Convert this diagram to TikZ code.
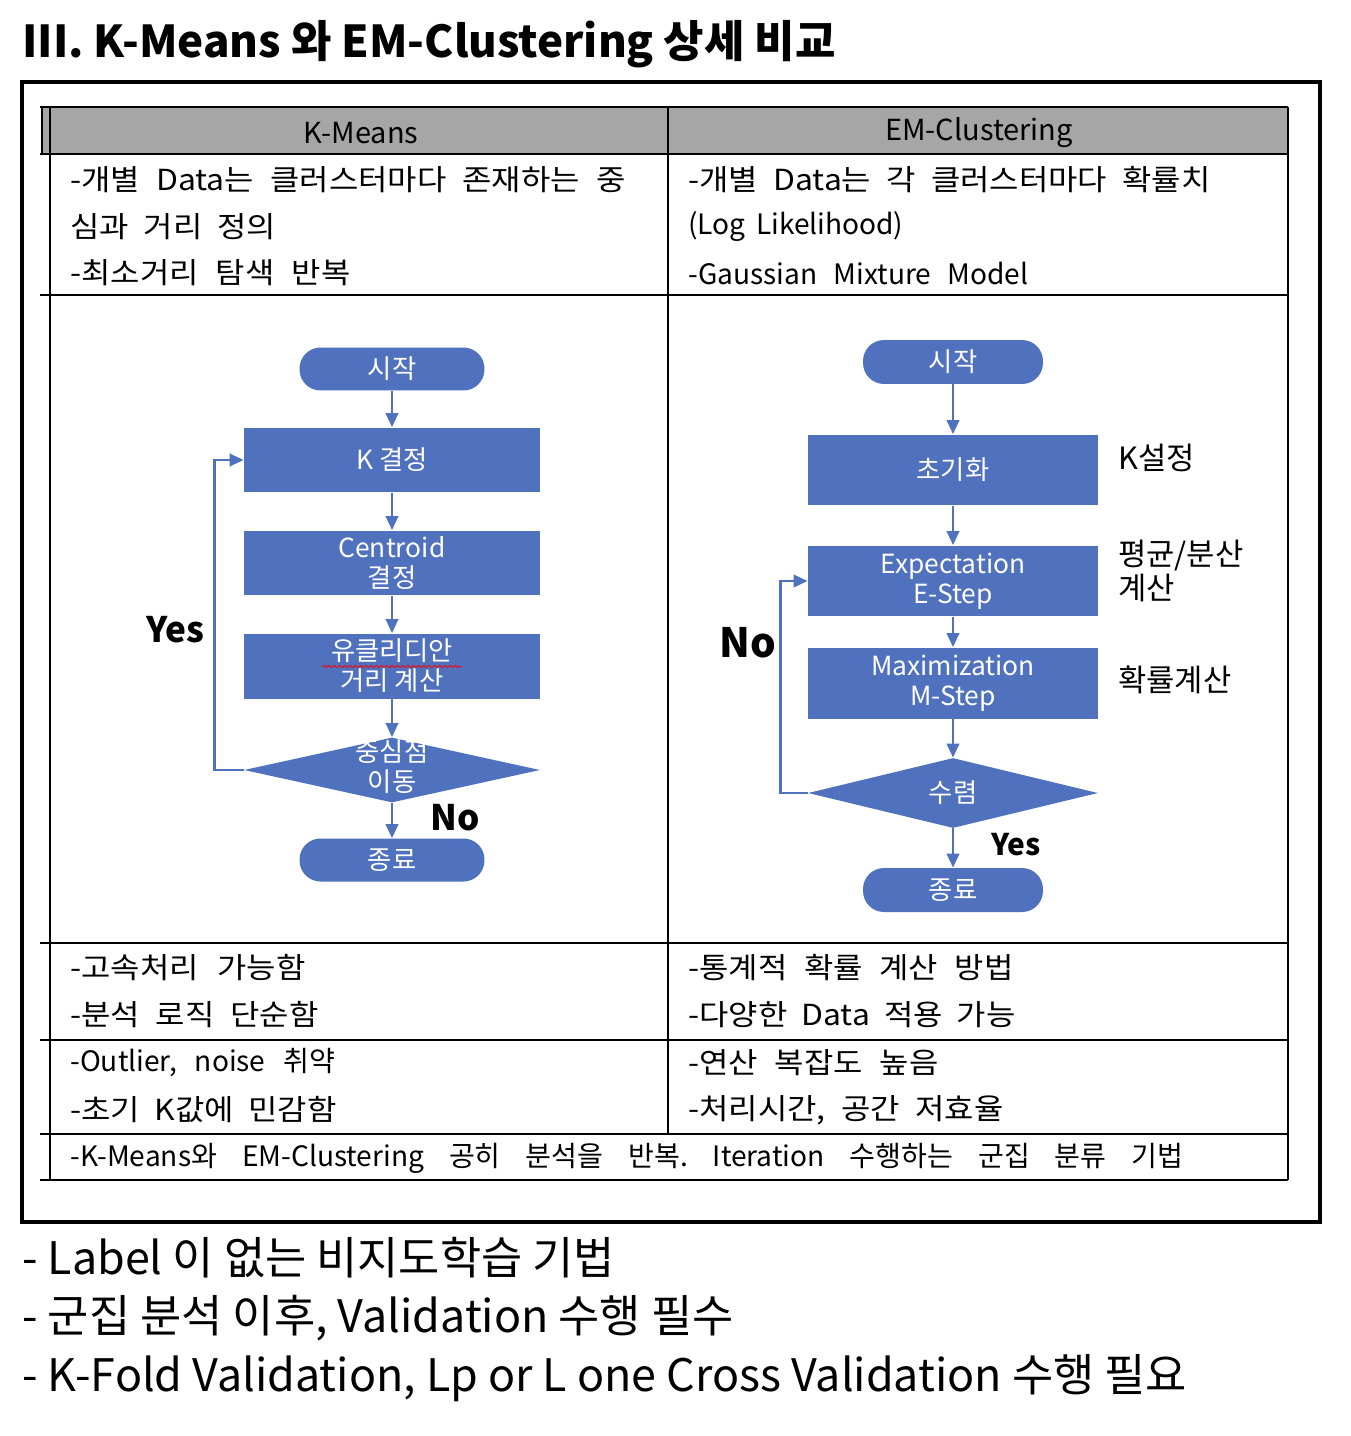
\documentclass[tikz,border=0pt]{standalone}
\usepackage{fontspec}
\setmainfont{Noto Sans CJK KR}
\newfontfamily\cellfont{Noto Sans CJK KR}[FakeStretch=1.1]
\usetikzlibrary{shapes.geometric, arrows.meta, decorations.pathmorphing}
\definecolor{flowblue}{RGB}{79,113,190}
\definecolor{headgray}{RGB}{166,166,166}
\frenchspacing
% 줄 폭 맞춤 (px 단위 폭)
\newcommand{\spread}[2]{\makebox[#1\dimexpr0.02cm\relax][s]{#2}}

\begin{document}
\begin{tikzpicture}[x=0.02cm, y=-0.02cm,
    cell/.style={anchor=west, inner sep=0pt, font=\cellfont\fontsize{16.5}{18}\selectfont},
    latincell/.style={anchor=west, inner sep=0pt, font=\fontsize{16}{18}\selectfont},
    process/.style={rectangle, fill=flowblue, text=white, inner sep=0pt, align=center,
      minimum width=5.92cm, minimum height=1.3cm, font=\fontsize{15}{17}\selectfont},
    terminal/.style={rectangle, rounded corners=0.42cm, fill=flowblue, text=white, inner sep=0pt,
      minimum width=3.7cm, minimum height=0.86cm, font=\fontsize{15}{17}\selectfont},
    decision/.style={diamond, fill=flowblue, inner sep=0pt, minimum width=5.92cm, minimum height=1.3cm},
    dectext/.style={text=white, align=center, font=\fontsize{15}{17}\selectfont},
    flow/.style={flowblue, line width=1.6pt, -{Triangle[length=8pt, width=7pt]}},
    answer/.style={font=\bfseries\fontsize{20}{22}\selectfont},
    side/.style={anchor=west, inner sep=0pt, align=left, font=\fontsize{17.5}{19}\selectfont},
    note/.style={anchor=west, inner sep=0pt, font=\fontsize{25.5}{28}\selectfont}]
    \useasboundingbox (0,0) rectangle (1350,1436);

    % 제목
    \node[anchor=west, inner sep=0pt, font=\bfseries\fontsize{25}{28}\selectfont] (title) at (22,44)
        {III. K-Means 와 EM-Clustering 상세 비교};

    % 바깥 테두리
    \draw[line width=1.8pt] (22,82) rectangle (1320,1222);

    % 표 머리
    \fill[headgray] (42,107) rectangle (1288,154);
    \node[font=\fontsize{16.5}{18}\selectfont] (headk) at (361,133) {K-Means};
    \node[font=\fontsize{16.5}{18}\selectfont] (heade) at (979,133) {EM-Clustering};

    % 표 선
    \foreach \y in {107,154,295,943,1040,1134,1180}
        \draw[line width=1.2pt] (40,\y) -- (1288,\y);
    \draw[line width=1.2pt] (50,107) -- (50,1180);
    \draw[line width=1.2pt] (42,107) -- (42,154);
    \draw[line width=1.2pt] (668,107) -- (668,1134);
    \draw[line width=1.2pt] (1288,107) -- (1288,1180);

    % 정의
    \node[cell] (k1) at (70,180) {\spread{555}{-개별 Data는 클러스터마다 존재하는 중}};
    \node[cell] (k2) at (70,227) {\spread{206}{심과 거리 정의}};
    \node[cell] (k3) at (70,273) {\spread{280}{-최소거리 탐색 반복}};
    \node[cell] (e1) at (688,180) {\spread{522}{-개별 Data는 각 클러스터마다 확률치}};
    \node[latincell] (e2) at (688,227) {\spread{215}{(Log Likelihood)}};
    \node[latincell] (e3) at (688,273) {\spread{340}{-Gaussian Mixture Model}};

    % K-Means 흐름도
    \node[terminal] (kstart) at (392,369) {시작};
    \node[process] (kset) at (392,460) {K 결정};
    \node[process] (kcent) at (392,563) {Centroid\\결정};
    \node[process] (kdist) at (392,666) {유클리디안\\거리 계산};
    \node[decision] (kdec) at (392,770) {};
    \node[dectext] (kdectext) at (392,767) {중심점\\이동};
    \node[terminal] (kend) at (392,860) {종료};
    \draw[red, line width=0.5pt, decorate, decoration={snake, amplitude=0.6pt, segment length=3pt}]
        ([xshift=-1.4cm, yshift=-0.01cm]kdist.center) -- ([xshift=1.4cm, yshift=-0.01cm]kdist.center);

    \draw[flow] (kstart) -- (kset);
    \draw[flow] (kset) -- (kcent);
    \draw[flow] (kcent) -- (kdist);
    \draw[flow] (kdist) -- (kdec);
    \draw[flow] (kdec) -- (kend);
    \draw[flow] (kdec.west) -- ++(-29,0) |- (kset.west);
    \node[answer] (kyes) at (175,630) {Yes};
    \node[answer] (kno) at (455,818) {No};

    % EM 흐름도
    \node[terminal, minimum width=3.6cm, minimum height=0.88cm] (estart) at (953,362) {시작};
    \node[process, minimum width=5.8cm, minimum height=1.42cm] (einit) at (953,470) {초기화};
    \node[process, minimum width=5.8cm, minimum height=1.42cm] (estep) at (953,581) {Expectation\\E-Step};
    \node[process, minimum width=5.8cm, minimum height=1.42cm] (mstep) at (953,683) {Maximization\\M-Step};
    \node[decision, minimum width=5.8cm, minimum height=1.4cm] (edec) at (953,793) {};
    \node[dectext] (edectext) at (953,793) {수렴};
    \node[terminal, minimum width=3.6cm, minimum height=0.88cm] (eend) at (953,890) {종료};

    \draw[flow] (estart) -- (einit);
    \draw[flow] (einit) -- (estep);
    \draw[flow] (estep) -- (mstep);
    \draw[flow] (mstep) -- (edec);
    \draw[flow] (edec) -- (eend);
    \draw[flow] (edec.west) -- ++(-27,0) |- (estep.west);
    \node[answer, font=\bfseries\fontsize{23}{25}\selectfont] (eno) at (748,643) {No};
    \node[answer, font=\bfseries\fontsize{17}{19}\selectfont] (eyes) at (1016,845) {Yes};

    \node[side] (ekset) at (1118,458) {K설정};
    \node[side] (emean) at (1118,571) {평균/분산\\계산};
    \node[side] (eprob) at (1118,680) {확률계산};

    % 장단점
    \node[cell] (k4) at (70,968) {\spread{235}{-고속처리 가능함}};
    \node[cell] (k5) at (70,1015) {\spread{248}{-분석 로직 단순함}};
    \node[cell] (e4) at (688,968) {\spread{325}{-통계적 확률 계산 방법}};
    \node[cell] (e5) at (688,1015) {\spread{327}{-다양한 Data 적용 가능}};
    \node[latincell] (k6) at (70,1063) {\spread{265}{-Outlier, noise 취약}};
    \node[cell] (k7) at (70,1110) {\spread{266}{-초기 K값에 민감함}};
    \node[cell] (e6) at (688,1063) {\spread{250}{-연산 복잡도 높음}};
    \node[cell] (e7) at (688,1110) {\spread{315}{-처리시간, 공간 저효율}};
    \node[latincell] (both) at (70,1158) {\spread{1113}{-K-Means와 EM-Clustering 공히 분석을 반복. Iteration 수행하는 군집 분류 기법}};

    % 아래 설명
    \node[note] (note1) at (22,1258) {- Label 이 없는 비지도학습 기법};
    \node[note] (note2) at (22,1318) {- 군집 분석 이후, Validation 수행 필수};
    \node[note] (note3) at (22,1378) {- K-Fold Validation, Lp or L one Cross Validation 수행 필요};
\end{tikzpicture}
\end{document}
